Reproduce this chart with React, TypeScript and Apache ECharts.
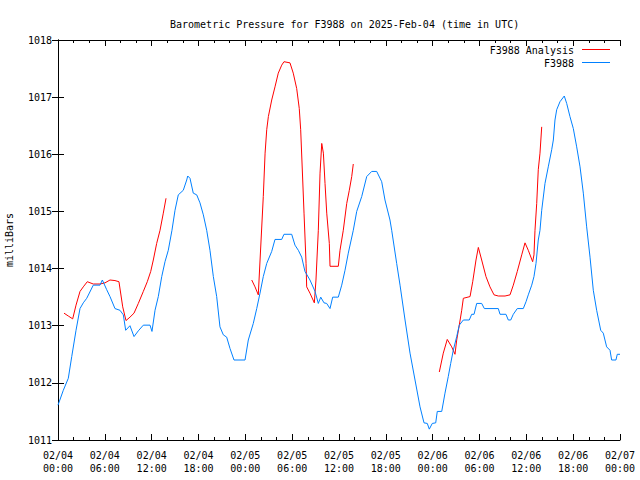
import React, { useEffect, useRef } from "react";
import * as echarts from "echarts";

// hours since 2025-02-04 00:00 UTC, pressure in millibars
const blueHours = [
  0, 0.68, 1.32, 1.76, 2.31, 2.82, 3.24, 3.68, 4.52, 5.38, 5.68, 6.24, 6.66, 7.3, 7.94, 8.37, 8.67, 9.22, 9.74, 10.29,
  10.93, 11.79, 12.04, 12.43, 12.85, 13.29, 13.71, 14.13, 14.6, 14.99, 15.41, 16.05, 16.49, 16.62, 16.91, 17.33, 17.77,
  18.19, 18.62, 19.05, 19.47, 19.9, 20.33, 20.75, 21.18, 21.61, 22.04, 22.55, 23.96, 24.38, 25.02, 25.46, 25.88, 26.3,
  26.74, 27.38, 27.8, 28.66, 28.95, 29.94, 30.36, 30.79, 31.22, 31.64, 32.28, 32.93, 33.35, 33.66, 34.08, 34.42, 34.85,
  35.19, 35.91, 36.35, 36.77, 37.19, 37.83, 38.27, 38.91, 39.55, 40.19, 40.83, 41.47, 41.89, 42.53, 42.75, 43.39, 43.82,
  44.46, 45.1, 45.74, 46.38, 46.89, 47.31, 47.57, 47.95, 48.39, 48.59, 49.16, 49.58, 50.0, 50.31, 50.64, 51.08, 51.41,
  51.93, 52.69, 53.0, 53.3, 53.64, 54.28, 54.62, 56.41, 56.63, 57.39, 57.69, 58.0, 58.33, 58.84, 59.61, 59.96, 60.25,
  60.69, 60.98, 61.24, 61.53, 61.75, 61.97, 62.39, 62.81, 63.25, 63.46, 63.67, 63.89, 64.31, 64.86, 65.17, 65.59, 66.02,
  66.45, 66.88, 67.3, 67.73, 68.16, 68.58, 69.01, 69.53, 69.86, 70.29, 70.72, 70.93, 71.48, 71.65, 72.0,
];
const blueValues = [
  1011.61, 1011.87, 1012.08, 1012.46, 1012.92, 1013.3, 1013.4, 1013.48, 1013.71, 1013.71, 1013.8, 1013.63, 1013.51,
  1013.3, 1013.27, 1013.19, 1012.92, 1013.0, 1012.81, 1012.91, 1013.01, 1013.01, 1012.9, 1013.27, 1013.51, 1013.86,
  1014.12, 1014.32, 1014.67, 1015.02, 1015.29, 1015.37, 1015.55, 1015.62, 1015.58, 1015.32, 1015.29, 1015.15, 1014.94,
  1014.67, 1014.32, 1013.86, 1013.51, 1012.98, 1012.84, 1012.8, 1012.6, 1012.4, 1012.4, 1012.75, 1013.04, 1013.3,
  1013.57, 1013.86, 1014.09, 1014.3, 1014.51, 1014.51, 1014.6, 1014.6, 1014.41, 1014.32, 1014.2, 1013.95, 1013.8,
  1013.6, 1013.39, 1013.5, 1013.4, 1013.39, 1013.3, 1013.5, 1013.5, 1013.71, 1013.97, 1014.27, 1014.67, 1015.0,
  1015.26, 1015.61, 1015.7, 1015.7, 1015.52, 1015.2, 1014.85, 1014.67, 1014.09, 1013.71, 1013.1, 1012.52, 1012.05,
  1011.58, 1011.3, 1011.29, 1011.19, 1011.29, 1011.3, 1011.5, 1011.5, 1011.82, 1012.11, 1012.34, 1012.57, 1012.81,
  1013.01, 1013.1, 1013.1, 1013.2, 1013.2, 1013.39, 1013.39, 1013.3, 1013.3, 1013.2, 1013.2, 1013.1, 1013.1, 1013.2,
  1013.3, 1013.3, 1013.42, 1013.54, 1013.71, 1013.86, 1014.09, 1014.5, 1014.67, 1015.02, 1015.49, 1015.78, 1016.08,
  1016.25, 1016.6, 1016.78, 1016.92, 1017.02, 1016.89, 1016.66, 1016.45, 1016.13, 1015.78, 1015.32, 1014.73, 1014.2,
  1013.62, 1013.27, 1012.92, 1012.87, 1012.63, 1012.57, 1012.4, 1012.4, 1012.5, 1012.5,
];

const redHours1 = [
  0.77, 1.32, 1.88, 2.31, 2.82, 3.24, 3.75, 4.52, 5.38, 6.02, 6.66, 7.3, 7.81, 8.29, 8.71, 9.22, 9.74, 10.29, 10.93,
  11.44, 11.88, 12.21, 12.64, 13.07, 13.49, 13.84,
];
const redValues1 = [
  1013.22, 1013.17, 1013.12, 1013.36, 1013.6, 1013.68, 1013.77, 1013.73, 1013.73, 1013.75, 1013.8, 1013.79, 1013.77,
  1013.33, 1013.09, 1013.15, 1013.22, 1013.39, 1013.6, 1013.77, 1013.95, 1014.15, 1014.44, 1014.67, 1014.97, 1015.23,
];
const redHours2 = [
  24.82, 25.24, 25.66, 26.3, 26.53, 26.74, 26.95, 27.38, 27.8, 28.22, 28.66, 28.95, 29.72, 30.14, 30.58, 30.91, 31.09,
  31.35, 31.52, 31.78, 31.86, 32.28, 32.84, 33.05, 33.35, 33.57, 33.79, 34.0, 34.21, 34.43, 34.76, 34.85, 35.91, 36.13,
  36.55, 36.99, 37.32, 37.63, 37.83,
];
const redValues2 = [
  1013.8, 1013.68, 1013.54, 1015.26, 1016.02, 1016.43, 1016.66, 1016.95, 1017.18, 1017.42, 1017.56, 1017.62, 1017.6,
  1017.42, 1017.15, 1016.8, 1016.43, 1015.55, 1014.97, 1014.09, 1013.68, 1013.57, 1013.4, 1013.8, 1014.67, 1015.67,
  1016.19, 1016.02, 1015.49, 1014.97, 1014.44, 1014.04, 1014.04, 1014.32, 1014.67, 1015.14, 1015.37, 1015.61, 1015.83,
];
const redHours3 = [
  48.85, 49.36, 49.87, 50.44, 50.86, 51.08, 51.41, 51.72, 51.93, 52.79, 53.13, 53.55, 53.85, 54.28, 54.83, 55.34, 55.86,
  56.41, 57.27, 57.91, 58.33, 58.84, 59.41, 59.83, 60.25, 60.81, 60.98, 61.11, 61.33, 61.53, 61.75, 61.97,
];
const redValues3 = [
  1012.19, 1012.52, 1012.76, 1012.63, 1012.5, 1012.75, 1013.01, 1013.27, 1013.48, 1013.51, 1013.77, 1014.15, 1014.37,
  1014.15, 1013.86, 1013.68, 1013.54, 1013.52, 1013.52, 1013.54, 1013.71, 1013.95, 1014.24, 1014.45, 1014.32, 1014.12,
  1014.24, 1014.67, 1015.14, 1015.73, 1016.02, 1016.48,
];

const xTickLabels = [
  "02/04\n00:00", "02/04\n06:00", "02/04\n12:00", "02/04\n18:00",
  "02/05\n00:00", "02/05\n06:00", "02/05\n12:00", "02/05\n18:00",
  "02/06\n00:00", "02/06\n06:00", "02/06\n12:00", "02/06\n18:00",
  "02/07\n00:00",
];
const yTickLabels = ["1011", "1012", "1013", "1014", "1015", "1016", "1017", "1018"];

const titleText = "Barometric Pressure for F3988 on 2025-Feb-04 (time in UTC)";
const seriesNames = ["F3988 Analysis", "F3988"];
const seriesColors = ["#ff0000", "#0080ff"];

const FONT = "'DejaVu Sans Mono', 'Liberation Mono', monospace";

function pairs(h: number[], v: number[]) {
  return h.map((x, i) => [x, v[i]]);
}

export default function App() {
  const ref = useRef<HTMLDivElement>(null);
  useEffect(() => {
    if (!ref.current) return;
    const chart = echarts.init(ref.current, undefined, { renderer: "svg" });
    const redData: any[] = [
      ...pairs(redHours1, redValues1),
      [19, "-"],
      ...pairs(redHours2, redValues2),
      [43, "-"],
      ...pairs(redHours3, redValues3),
    ];
    const blueData = pairs(blueHours, blueValues);

    const xCommon = {
      type: "value" as const,
      min: 0,
      max: 72,
      interval: 6,
      splitLine: { show: false },
      axisLine: { show: true, lineStyle: { color: "#000", width: 1 } },
      axisTick: { show: true, inside: true, length: 6, lineStyle: { color: "#000" } },
      minorTick: { show: true, splitNumber: 3, length: 3, lineStyle: { color: "#000" } },
    };
    const yCommon = {
      type: "value" as const,
      min: 1011,
      max: 1018,
      interval: 1,
      splitLine: { show: false },
      axisLine: { show: true, lineStyle: { color: "#000", width: 1 } },
      axisTick: { show: true, inside: true, length: 6, lineStyle: { color: "#000" } },
    };

    chart.setOption({
      animation: false,
      backgroundColor: "#fff",
      title: {
        text: titleText,
        left: 165,
        top: 14,
        textStyle: { fontFamily: FONT, fontSize: 10, fontWeight: "normal", color: "#000" },
      },
      grid: { left: 58, top: 40, width: 562, height: 400, containLabel: false, outerBoundsMode: "none" },
      xAxis: [
        {
          ...xCommon,
          position: "bottom",
          axisLabel: {
            show: true,
            margin: 9,
            fontFamily: FONT,
            fontSize: 10,
            color: "#000",
            lineHeight: 13,
            formatter: (v: number) => xTickLabels[Math.round(v / 6)] ?? "",
          },
        },
        { ...xCommon, position: "top", axisLabel: { show: false } },
      ],
      yAxis: [
        {
          ...yCommon,
          position: "left",
          name: "milliBars",
          nameLocation: "middle",
          nameRotate: 90,
          nameGap: 44,
          nameTextStyle: { fontFamily: FONT, fontSize: 10, color: "#000" },
          axisLabel: {
            show: true,
            margin: 6,
            fontFamily: FONT,
            fontSize: 10,
            color: "#000",
            formatter: (v: number) => yTickLabels[Math.round(v - 1011)] ?? "",
          },
        },
        { ...yCommon, position: "right", axisLabel: { show: false } },
      ],
      graphic: [
        {
          type: "text",
          x: 574,
          y: 50,
          style: {
            text: seriesNames[0],
            textAlign: "right",
            textVerticalAlign: "middle",
            fontFamily: FONT,
            fontSize: 10,
            fill: "#000",
          },
        },
        {
          type: "line",
          shape: { x1: 582, y1: 49.5, x2: 610, y2: 49.5 },
          style: { stroke: seriesColors[0], lineWidth: 1 },
        },
        {
          type: "text",
          x: 574,
          y: 63,
          style: {
            text: seriesNames[1],
            textAlign: "right",
            textVerticalAlign: "middle",
            fontFamily: FONT,
            fontSize: 10,
            fill: "#000",
          },
        },
        {
          type: "line",
          shape: { x1: 582, y1: 62.5, x2: 610, y2: 62.5 },
          style: { stroke: seriesColors[1], lineWidth: 1 },
        },
      ],
      series: [
        {
          name: seriesNames[0],
          type: "line",
          xAxisIndex: 0,
          yAxisIndex: 0,
          data: redData,
          showSymbol: false,
          connectNulls: false,
          lineStyle: { color: seriesColors[0], width: 1 },
          itemStyle: { color: seriesColors[0] },
        },
        {
          name: seriesNames[1],
          type: "line",
          xAxisIndex: 0,
          yAxisIndex: 0,
          data: blueData,
          showSymbol: false,
          lineStyle: { color: seriesColors[1], width: 1 },
          itemStyle: { color: seriesColors[1] },
        },
      ],
    });
    return () => chart.dispose();
  }, []);
  return <div ref={ref} style={{ width: 640, height: 480, position: "absolute", left: 0, top: 0 }} />;
}
